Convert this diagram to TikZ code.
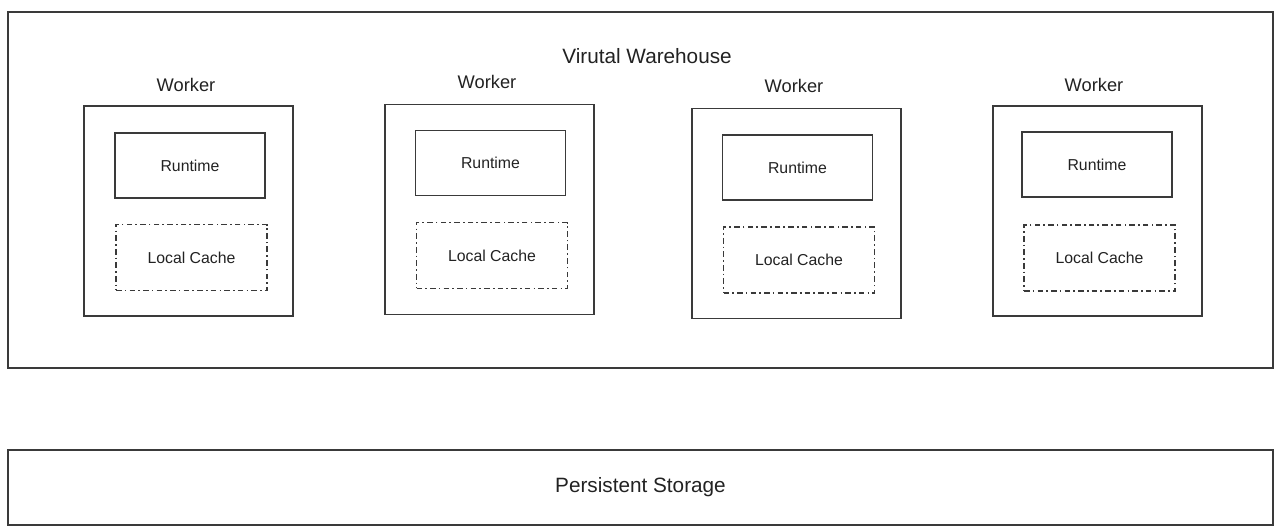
\documentclass[tikz,border=0pt]{standalone}
\usepackage{fontspec}
\setsansfont{Liberation Sans}
\usepackage{tikz}

\definecolor{edge}{HTML}{3A3A3A}
\definecolor{ink}{HTML}{222222}

\tikzset{
    box/.style = {draw = edge, line width = 1pt, rectangle, inner sep = 0pt, text = ink},
    worker/.style = {box, minimum width = 4.18cm, minimum height = 4.2cm},
    runtime/.style = {box, minimum width = 3cm, minimum height = 1.3cm, font = \sffamily\fontsize{9}{11}\selectfont},
    cache/.style = {box, line width = 1.1pt, dash pattern = on 3.2pt off 1.8pt on 0.9pt off 1.8pt, minimum width = 3.02cm, minimum height = 1.32cm, font = \sffamily\fontsize{9}{11}\selectfont},
    title/.style = {text = ink, font = \sffamily\fontsize{10.4}{12}\selectfont}
}

\begin{document}
\begin{tikzpicture}[x = 0.02cm, y = -0.02cm]
        \useasboundingbox (0,0) rectangle (1280,527);
        
        \node [box, minimum width = 25.3cm, minimum height = 7.12cm] (warehouse) at (640.5,190) {};
        \node [title, font = \sffamily\fontsize{11.8}{14}\selectfont] (whlabel) at (647,56) {Virutal Warehouse};
        
        \node [worker] (w1) at (188.5,211) {};
        \node [title] (w1label) at (186,85) {Worker};
        \node [runtime] (rt1) at (190,165.5) {Runtime};
        \node [cache] (lc1) at (191.5,257.5) {Local Cache};
        
        \node [worker] (w2) at (489.5,209.5) {};
        \node [title] (w2label) at (487,82) {Worker};
        \node [runtime] (rt2) at (490.5,163) {Runtime};
        \node [cache] (lc2) at (492,255.5) {Local Cache};
        
        \node [worker] (w3) at (796.5,213.5) {};
        \node [title] (w3label) at (794,86) {Worker};
        \node [runtime] (rt3) at (797.5,167.5) {Runtime};
        \node [cache] (lc3) at (799,260) {Local Cache};
        
        \node [worker] (w4) at (1097.5,211) {};
        \node [title] (w4label) at (1094,85) {Worker};
        \node [runtime] (rt4) at (1097,164.5) {Runtime};
        \node [cache] (lc4) at (1099.5,258) {Local Cache};
        
        \node [box, minimum width = 25.3cm, minimum height = 1.5cm, font = \sffamily\fontsize{11.8}{14}\selectfont] (storage) at (640.5,487.5) {Persistent Storage};
    \end{tikzpicture}
\end{document}
